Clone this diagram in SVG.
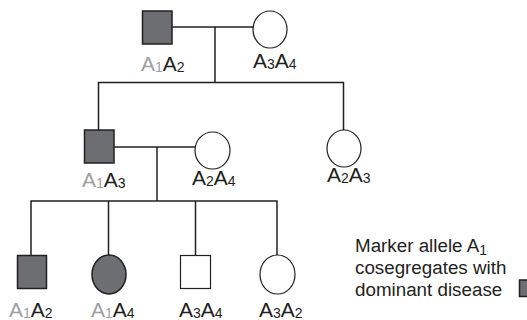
<svg xmlns="http://www.w3.org/2000/svg" width="527" height="320" viewBox="0 0 527 320">
  <style>
    .ln { stroke: #231f20; stroke-width: 1.5; fill: none; }
    .aff { fill: #6d6e71; stroke: #231f20; stroke-width: 1.5; }
    .unaff { fill: #ffffff; stroke: #231f20; stroke-width: 1.2; }
    text { font-family: "Liberation Sans", Arial, sans-serif; fill: #231f20; }
    .lbl { font-size: 21px; }
    .sub { font-size: 14px; }
    .mk { fill: #9d9fa2; }
    .leg { font-size: 18.8px; }
  </style>

  <!-- connectors: marriage lines, descent lines and sibships -->
  <g id="connectors">
    <path class="ln" d="M172 27 H253"/>
    <path class="ln" d="M215 27 V82.5"/>
    <path class="ln" d="M98.5 130 V82.5 H343.5 V130"/>
    <path class="ln" d="M114 147 H195"/>
    <path class="ln" d="M157 147 V201"/>
    <path class="ln" d="M31 255 V201 H277 V255"/>
    <path class="ln" d="M108.5 201 V255"/>
    <path class="ln" d="M195.5 201 V255"/>
  </g>

  <!-- generation I -->
  <g id="I-1">
    <rect class="aff" x="142.5" y="11" width="29.5" height="33"/>
    <text class="lbl" x="141" y="71"><tspan class="mk">A</tspan><tspan class="sub mk" dy="1">1</tspan><tspan dy="-1">A</tspan><tspan class="sub" dy="1">2</tspan></text>
  </g>
  <g id="I-2">
    <ellipse class="unaff" cx="270" cy="29.5" rx="17" ry="18.5"/>
    <text class="lbl" x="253" y="68"><tspan>A</tspan><tspan class="sub" dy="1">3</tspan><tspan dy="-1">A</tspan><tspan class="sub" dy="1">4</tspan></text>
  </g>

  <!-- generation II -->
  <g id="II-1">
    <rect class="aff" x="84.5" y="130" width="29.5" height="33"/>
    <text class="lbl" x="82" y="187"><tspan class="mk">A</tspan><tspan class="sub mk" dy="1">1</tspan><tspan dy="-1">A</tspan><tspan class="sub" dy="1">3</tspan></text>
  </g>
  <g id="II-2">
    <ellipse class="unaff" cx="212.5" cy="150.5" rx="17.5" ry="18.5"/>
    <text class="lbl" x="192" y="185"><tspan>A</tspan><tspan class="sub" dy="1">2</tspan><tspan dy="-1">A</tspan><tspan class="sub" dy="1">4</tspan></text>
  </g>
  <g id="II-3">
    <ellipse class="unaff" cx="344" cy="148.5" rx="17" ry="18.5"/>
    <text class="lbl" x="327" y="182"><tspan>A</tspan><tspan class="sub" dy="1">2</tspan><tspan dy="-1">A</tspan><tspan class="sub" dy="1">3</tspan></text>
  </g>

  <!-- generation III -->
  <g id="III-1">
    <rect class="aff" x="17.5" y="255.5" width="29" height="33"/>
    <text class="lbl" x="9" y="317"><tspan class="mk">A</tspan><tspan class="sub mk" dy="1">1</tspan><tspan dy="-1">A</tspan><tspan class="sub" dy="1">2</tspan></text>
  </g>
  <g id="III-2">
    <ellipse class="aff" cx="109" cy="274.5" rx="17" ry="19.5"/>
    <text class="lbl" x="91" y="317"><tspan class="mk">A</tspan><tspan class="sub mk" dy="1">1</tspan><tspan dy="-1">A</tspan><tspan class="sub" dy="1">4</tspan></text>
  </g>
  <g id="III-3">
    <rect class="unaff" x="180.5" y="255.5" width="30" height="33"/>
    <text class="lbl" x="179" y="317"><tspan>A</tspan><tspan class="sub" dy="1">3</tspan><tspan dy="-1">A</tspan><tspan class="sub" dy="1">4</tspan></text>
  </g>
  <g id="III-4">
    <ellipse class="unaff" cx="277.5" cy="274.5" rx="17.5" ry="19.5"/>
    <text class="lbl" x="259" y="317"><tspan>A</tspan><tspan class="sub" dy="1">3</tspan><tspan dy="-1">A</tspan><tspan class="sub" dy="1">2</tspan></text>
  </g>

  <!-- legend -->
  <g id="legend">
    <text class="leg" x="355" y="252">Marker allele A<tspan class="sub" dy="3">1</tspan></text>
    <text class="leg" x="355" y="274">cosegregates with</text>
    <text class="leg" x="355" y="296">dominant disease</text>
    <rect class="aff" x="519.5" y="280" width="16" height="16.5"/>
  </g>
</svg>
